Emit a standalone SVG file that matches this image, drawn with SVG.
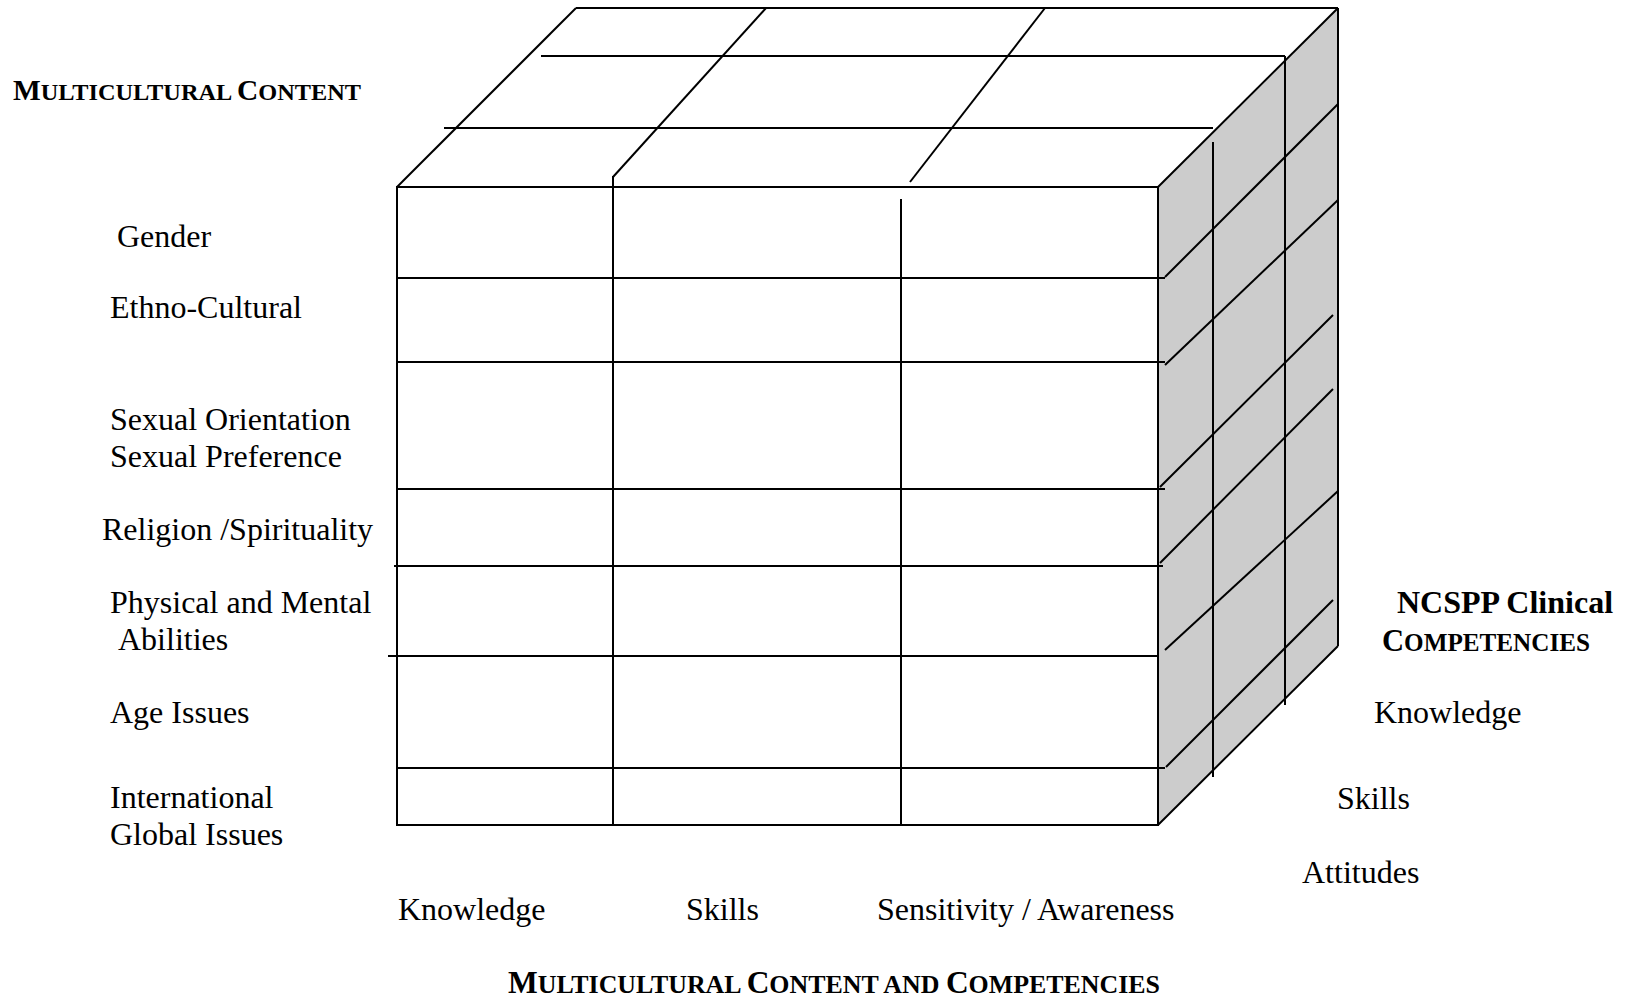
<svg xmlns="http://www.w3.org/2000/svg" width="1625" height="1000" viewBox="0 0 1625 1000">
<style>
  .ln { stroke: #000; stroke-width: 2; fill: none; stroke-linecap: butt; }
  .face { fill: #cccccc; stroke: none; }
  .lbl { font-family: "Liberation Serif", "Times New Roman", serif; font-size: 32px; fill: #000; }
  .hd { font-family: "Liberation Serif", "Times New Roman", serif; font-weight: bold; fill: #000; }
</style>
<rect width="1625" height="1000" fill="#fff"/>

<g id="cube">
  <polygon class="face" points="1158,187 1338,8 1338,646 1158,825"/>
  <!-- top face -->
  <line class="ln" x1="576" y1="8" x2="1338" y2="8"/>
  <line class="ln" x1="397" y1="187" x2="576" y2="8"/>
  <line class="ln" x1="1158" y1="187" x2="1338" y2="8"/>
  <line class="ln" x1="541" y1="56" x2="1285" y2="56"/>
  <line class="ln" x1="444" y1="128" x2="1213" y2="128"/>
  <line class="ln" x1="766" y1="8" x2="613" y2="177"/>
  <line class="ln" x1="1045" y1="8" x2="910" y2="182"/>
  <!-- front face -->
  <rect class="ln" x="397" y="187" width="761" height="638"/>
  <line class="ln" x1="613" y1="176" x2="613" y2="825"/>
  <line class="ln" x1="901" y1="199" x2="901" y2="825"/>
  <line class="ln" x1="397" y1="278" x2="1165" y2="278"/>
  <line class="ln" x1="397" y1="362" x2="1165" y2="362"/>
  <line class="ln" x1="397" y1="489" x2="1165" y2="489"/>
  <line class="ln" x1="394" y1="566" x2="1163" y2="566"/>
  <line class="ln" x1="388" y1="656" x2="1158" y2="656"/>
  <line class="ln" x1="397" y1="768" x2="1165" y2="768"/>
  <!-- right face -->
  <line class="ln" x1="1338" y1="8" x2="1338" y2="646"/>
  <line class="ln" x1="1158" y1="825" x2="1338" y2="646"/>
  <line class="ln" x1="1213" y1="142" x2="1213" y2="777"/>
  <line class="ln" x1="1285" y1="56" x2="1285" y2="705"/>
  <line class="ln" x1="1165" y1="277" x2="1338" y2="104"/>
  <line class="ln" x1="1165" y1="365" x2="1338" y2="200"/>
  <line class="ln" x1="1160" y1="487" x2="1333" y2="315"/>
  <line class="ln" x1="1160" y1="563" x2="1333" y2="389"/>
  <line class="ln" x1="1165" y1="650" x2="1338" y2="491"/>
  <line class="ln" x1="1166" y1="767" x2="1333" y2="600"/>
</g>

<g id="content-labels">
  <text class="hd" x="13" y="100" textLength="348" lengthAdjust="spacingAndGlyphs"><tspan font-size="29">M</tspan><tspan font-size="24">ULTICULTURAL </tspan><tspan font-size="29">C</tspan><tspan font-size="24">ONTENT</tspan></text>
  <text class="lbl" x="117" y="247">Gender</text>
  <text class="lbl" x="110" y="318">Ethno-Cultural</text>
  <text class="lbl" x="110" y="430">Sexual Orientation</text>
  <text class="lbl" x="110" y="467">Sexual Preference</text>
  <text class="lbl" x="102" y="540">Religion /Spirituality</text>
  <text class="lbl" x="110" y="613">Physical and Mental</text>
  <text class="lbl" x="118" y="650">Abilities</text>
  <text class="lbl" x="110" y="723">Age Issues</text>
  <text class="lbl" x="110" y="808">International</text>
  <text class="lbl" x="110" y="845">Global Issues</text>
</g>

<g id="competency-labels">
  <text class="hd" x="1397" y="613" font-size="32">NCSPP Clinical</text>
  <text class="hd" x="1382" y="651" textLength="208" lengthAdjust="spacingAndGlyphs"><tspan font-size="31">C</tspan><tspan font-size="25.5">OMPETENCIES</tspan></text>
  <text class="lbl" x="1374" y="723">Knowledge</text>
  <text class="lbl" x="1337" y="809">Skills</text>
  <text class="lbl" x="1302" y="883">Attitudes</text>
</g>

<g id="axis-labels">
  <text class="lbl" x="398" y="920">Knowledge</text>
  <text class="lbl" x="686" y="920">Skills</text>
  <text class="lbl" x="877" y="920">Sensitivity / Awareness</text>
  <text class="hd" x="508" y="993" textLength="652" lengthAdjust="spacingAndGlyphs"><tspan font-size="31">M</tspan><tspan font-size="25.5">ULTICULTURAL </tspan><tspan font-size="31">C</tspan><tspan font-size="25.5">ONTENT AND  </tspan><tspan font-size="31">C</tspan><tspan font-size="25.5">OMPETENCIES</tspan></text>
</g>
</svg>
